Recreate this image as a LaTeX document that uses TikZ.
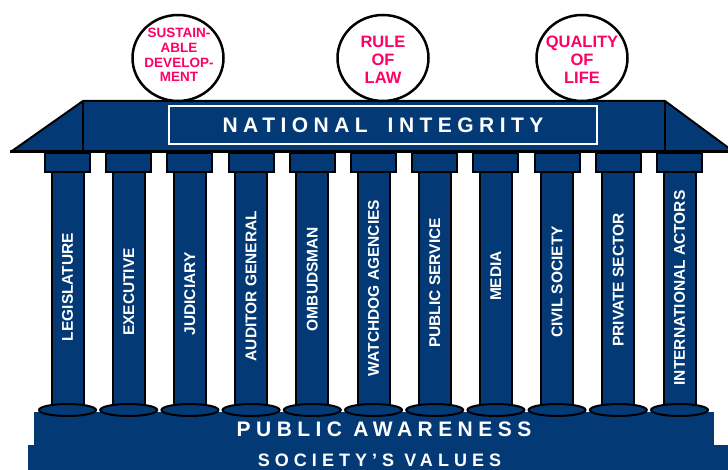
\documentclass[tikz,border=0pt]{standalone}
\usepackage{fontspec}
\setmainfont{Liberation Sans}
\newfontfamily\trackA{Liberation Sans}[LetterSpace=26]
\newfontfamily\trackB{Liberation Sans}[LetterSpace=28]
\definecolor{navy}{RGB}{3,58,118}
\definecolor{pinkt}{RGB}{255,0,102}
\tikzset{
  navyfill/.style={fill=navy, draw=black, line width=2pt},
  collabel/.style={rotate=90, text=white, inner sep=0pt, font=\bfseries\fontsize{15.5}{16}\selectfont},
  bigtrack/.style={text=white, inner sep=0pt, font=\trackA\bfseries\fontsize{21}{21}\selectfont},
  valuetrack/.style={text=white, inner sep=0pt, font=\trackB\bfseries\fontsize{18}{18}\selectfont},
  goal/.style={draw=black, fill=white, line width=2.5pt},
  goaltext/.style={text=pinkt, align=center, inner sep=0pt}
}
\begin{document}
\begin{tikzpicture}[x=1pt,y=-1pt]
\useasboundingbox (0,0) rectangle (728,470);
% base
\fill[navy] (34,412) rectangle (714,445);
\fill[navy] (28,445) rectangle (728,470);
\node[bigtrack] (aware) at (384,429.5) {PUBLIC AWARENESS};
\node[valuetrack] (values) at (379.5,460) {SOCIETY’S VALUES};
% roof
\fill[navy] (83,101) rectangle (665,151);
\fill[navy] (12,151) -- (83,101) -- (83,151) -- cycle;
\fill[navy] (665,101) -- (730,149) -- (730,151) -- (665,151) -- cycle;
\draw[black, line width=2pt, line join=round] (12,151) -- (83,101) -- (665,101) -- (730,149);
\draw[black, line width=1.5pt] (83,101) -- (83,151);
\draw[black, line width=1.5pt] (665,101) -- (665,151);
\draw[black, line width=3pt] (10,152) -- (728,152);
\draw[white, line width=1.5pt] (169,106) rectangle (597,144);
\node[bigtrack] (title) at (383,125.5) {NATIONAL\hspace{20pt}INTEGRITY};
% columns
\foreach \i/\lab/\ty in {0/LEGISLATURE/287, 1/EXECUTIVE/292, 2/JUDICIARY/294,
  3/AUDITOR GENERAL/286, 4/OMBUDSMAN/279, 5/WATCHDOG AGENCIES/288,
  6/PUBLIC SERVICE/283, 7/MEDIA/276, 8/CIVIL SOCIETY/282,
  9/PRIVATE SECTOR/280, 10/INTERNATIONAL ACTORS/288} {
  \pgfmathsetmacro\cx{67.5+61.2*\i}
  \filldraw[navyfill] ({\cx-16},172) rectangle ({\cx+16},410);
  \filldraw[navyfill] ({\cx-22.5},153) rectangle ({\cx+22.5},172);
  \filldraw[navyfill] (\cx,410) ellipse [x radius=28.5pt, y radius=6pt];
  \node[collabel] (col\i) at (\cx,\ty) {\lab};
}
% goals
\filldraw[goal] (178,58) ellipse [x radius=45.5pt, y radius=43pt];
\node[goaltext, font=\bfseries\fontsize{13.5}{14.7}\selectfont] (sustain) at (179,55) {SUSTAIN-\\ABLE\\DEVELOP-\\MENT};
\filldraw[goal] (383,58) ellipse [x radius=45.5pt, y radius=43pt];
\node[goaltext, font=\bfseries\fontsize{16.5}{18}\selectfont] (law) at (383,60) {RULE\\OF\\LAW};
\filldraw[goal] (582,58) ellipse [x radius=45.5pt, y radius=43pt];
\node[goaltext, font=\bfseries\fontsize{16.5}{18}\selectfont] (life) at (582,60) {QUALITY\\OF\\LIFE};
\end{tikzpicture}
\end{document}
